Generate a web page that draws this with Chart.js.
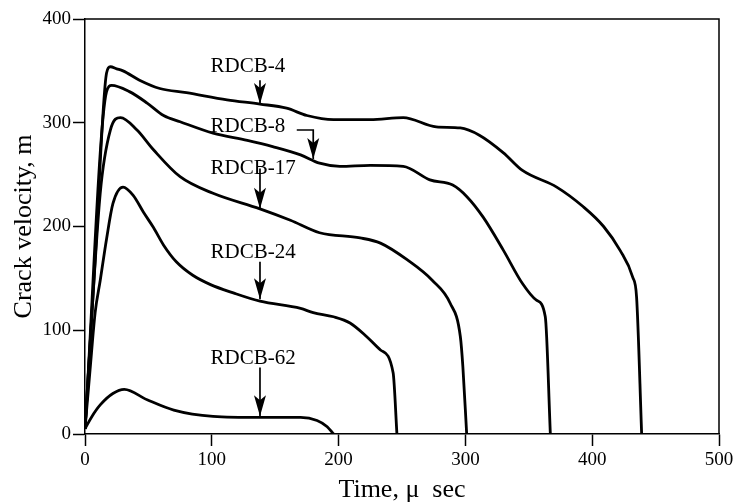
<!DOCTYPE html>
<html>
<head>
<meta charset="utf-8">
<script src="https://cdn.jsdelivr.net/npm/chart.js@4/dist/chart.umd.min.js"></script>
<style>
  html, body { margin: 0; padding: 0; background: #fff; }
</style>
</head>
<body>
<canvas id="crackChart" width="740" height="504"></canvas>
<script>
// crack velocity (m/s) against time (microseconds)
const rdcb4Time = [0, 8, 17, 20, 25, 30, 43, 59, 80, 112, 138, 159, 175, 196, 225, 251, 277, 296, 311, 330, 345, 372, 393, 409, 422, 432, 435, 439];
const rdcb4Vel  = [5, 168, 348, 354, 352, 350, 341, 333, 329, 322, 318, 314, 307, 303, 303, 305, 296, 295, 288, 271, 254, 238, 219, 200, 177, 151, 132, 0];

const rdcb8Time = [0, 17, 21, 35, 49, 62, 75, 101, 128, 148, 170, 185, 201, 225, 251, 272, 290, 301, 314, 330, 345, 356, 363, 367];
const rdcb8Vel  = [5, 330, 336, 330, 319, 307, 301, 290, 283, 277, 269, 261, 258, 259, 258, 245, 240, 229, 209, 177, 145, 129, 113, 0];

const rdcb17Time = [0, 12, 20, 28, 41, 54, 75, 101, 138, 162, 185, 217, 233, 254, 274, 288, 296, 298, 301];
const rdcb17Vel  = [5, 232, 293, 305, 293, 274, 248, 232, 217, 206, 194, 189, 184, 168, 148, 126, 94, 65, 0];

const rdcb24Time = [0, 4, 8, 12, 17, 22, 30, 38, 46, 54, 62, 72, 85, 99, 117, 138, 170, 180, 196, 209, 222, 233, 243, 246];
const rdcb24Vel  = [5, 62, 117, 148, 188, 222, 238, 230, 214, 199, 182, 166, 153, 144, 136, 128, 121, 117, 113, 107, 94, 81, 59, 0];

const rdcb62Time = [0, 5, 12, 22, 31, 49, 70, 101, 138, 170, 183, 191, 196];
const rdcb62Vel  = [5, 16, 28, 39, 43, 33, 23, 17, 16, 16, 13, 7, 0];

const xTicks = [0, 100, 200, 300, 400, 500];
const yTicks = [0, 100, 200, 300, 400];

// label text and arrow path, in data units
const callouts = [
  { text: 'RDCB-4',  x: 99, y: 354, arrow: [[138, 341], [138, 318]] },
  { text: 'RDCB-8',  x: 99, y: 296, arrow: [[167, 293], [180, 293], [180, 265]] },
  { text: 'RDCB-17', x: 99, y: 256, arrow: [[138, 256], [138, 217]] },
  { text: 'RDCB-24', x: 99, y: 175, arrow: [[138, 166], [138, 130]] },
  { text: 'RDCB-62', x: 99, y: 73,  arrow: [[138, 64],  [138, 17]] }
];

const serif = "'Liberation Serif', 'Times New Roman', serif";

function series(times, vels) {
  return {
    data: times.map((t, i) => ({ x: t, y: vels[i] })),
    borderColor: '#000',
    borderWidth: 2.8,
    pointRadius: 0,
    fill: false,
    cubicInterpolationMode: 'monotone'
  };
}

const calloutPlugin = {
  id: 'callouts',
  afterDraw(chart) {
    const { ctx, chartArea, scales } = chart;
    const xs = scales.x, ys = scales.y;
    ctx.save();
    // top and right frame
    ctx.strokeStyle = '#000';
    ctx.lineWidth = 1.5;
    ctx.beginPath();
    ctx.moveTo(chartArea.left, chartArea.top);
    ctx.lineTo(chartArea.right, chartArea.top);
    ctx.lineTo(chartArea.right, chartArea.bottom);
    ctx.stroke();

    ctx.font = '21px ' + serif;
    ctx.fillStyle = '#000';
    ctx.textAlign = 'left';
    ctx.textBaseline = 'middle';
    callouts.forEach(c => {
      ctx.fillText(c.text, xs.getPixelForValue(c.x), ys.getPixelForValue(c.y));
      const pts = c.arrow.map(p => [xs.getPixelForValue(p[0]), ys.getPixelForValue(p[1])]);
      ctx.lineWidth = 1.7;
      ctx.beginPath();
      ctx.moveTo(pts[0][0], pts[0][1]);
      for (let i = 1; i < pts.length; i++) ctx.lineTo(pts[i][0], pts[i][1]);
      ctx.stroke();
      const tip = pts[pts.length - 1];
      ctx.beginPath();
      ctx.moveTo(tip[0], tip[1]);
      ctx.lineTo(tip[0] - 6, tip[1] - 21);
      ctx.lineTo(tip[0], tip[1] - 16);
      ctx.lineTo(tip[0] + 6, tip[1] - 21);
      ctx.closePath();
      ctx.fill();
    });
    ctx.restore();
  }
};

const ctx = document.getElementById('crackChart').getContext('2d');
const crackChart = new Chart(ctx, {
  type: 'line',
  data: {
    datasets: [
      series(rdcb4Time, rdcb4Vel),
      series(rdcb8Time, rdcb8Vel),
      series(rdcb17Time, rdcb17Vel),
      series(rdcb24Time, rdcb24Vel),
      series(rdcb62Time, rdcb62Vel)
    ]
  },
  options: {
    responsive: false,
    animation: false,
    layout: { padding: { top: 19, right: 21, left: 0, bottom: 0 } },
    plugins: {
      legend: { display: false },
      tooltip: { enabled: false }
    },
    scales: {
      x: {
        type: 'linear',
        min: 0,
        max: 500,
        afterBuildTicks: s => { s.ticks = xTicks.map(v => ({ value: v })); },
        afterFit: s => { s.height = 70; },
        ticks: { color: '#000', font: { family: serif, size: 19 }, padding: 3, maxRotation: 0 },
        grid: { drawOnChartArea: false, drawTicks: true, tickLength: 12, tickColor: '#000', tickWidth: 1.5 },
        border: { display: true, color: '#000', width: 1.5 },
        title: {
          display: true,
          text: 'Time, \u03bc  sec',
          color: '#000',
          font: { family: serif, size: 26, lineHeight: 1 },
          padding: { top: 0, bottom: 1 }
        }
      },
      y: {
        type: 'linear',
        min: 0,
        max: 400,
        afterBuildTicks: s => { s.ticks = yTicks.map(v => ({ value: v })); },
        afterFit: s => { s.width = 85; },
        ticks: { color: '#000', font: { family: serif, size: 19 }, padding: 2 },
        grid: { drawOnChartArea: false, drawTicks: true, tickLength: 12, tickColor: '#000', tickWidth: 1.5 },
        border: { display: true, color: '#000', width: 1.5 },
        title: {
          display: true,
          text: 'Crack velocity, m',
          color: '#000',
          font: { family: serif, size: 26, lineHeight: 1 },
          padding: { top: 11, bottom: 0 }
        }
      }
    }
  },
  plugins: [calloutPlugin]
});
</script>
</body>
</html>
